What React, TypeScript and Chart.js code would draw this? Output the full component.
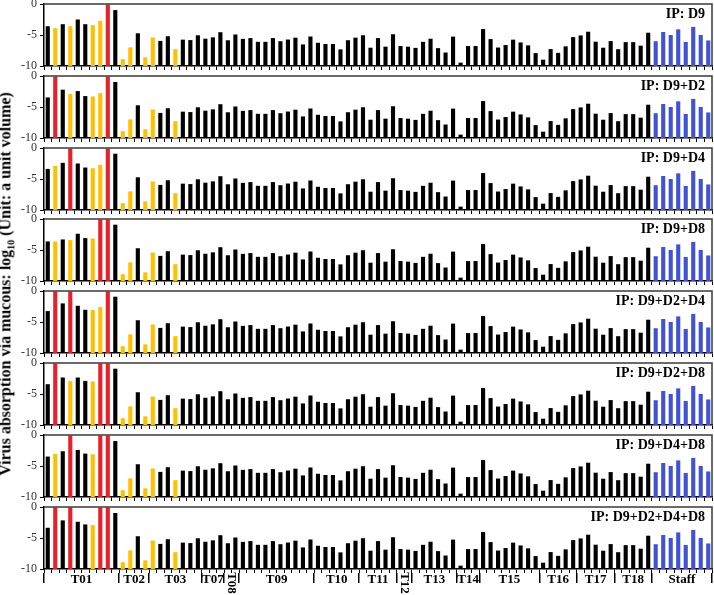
import React, { useEffect, useRef } from "react";
import { Chart, registerables } from "chart.js";

Chart.register(...registerables);

// ---------------- data ----------------
const groupNames = ["T01", "T02", "T03", "T07", "T08", "T09", "T10", "T11", "T12", "T13", "T14", "T15", "T16", "T17", "T18", "Staff"];
const groupSizes = [10, 4, 7, 3, 2, 10, 6, 5, 2, 6, 3, 8, 5, 5, 5, 8];
const rotatedGroups = ["T08", "T12"];

const panelTitles = [
  "IP: D9",
  "IP: D9+D2",
  "IP: D9+D4",
  "IP: D9+D8",
  "IP: D9+D2+D4",
  "IP: D9+D2+D8",
  "IP: D9+D4+D8",
  "IP: D9+D2+D4+D8",
];

// T01 site values (log10) for each intervention panel
const t01_D9 = [-3.59, -3.9, -3.26, -3.59, -2.5, -3.26, -3.42, -2.72, 0, -0.98];
const t01_D9D2 = [-3.46, 0, -2.2, -2.92, -2.43, -3.24, -3.3, -2.76, 0, -0.97];
const t01_D9D4 = [-3.37, -2.88, -2.39, 0, -2.5, -3.15, -3.26, -2.72, 0, -0.92];
const t01_D9D8 = [-3.62, -3.62, -3.3, -3.4, -2.38, -3.08, -3.14, 0, 0, -0.92];
const t01_D9D2D4 = [-3.24, 0, -2.0, 0, -2.38, -3.03, -3.08, -2.59, 0, -0.92];
const t01_D9D2D8 = [-3.42, 0, -2.34, -2.93, -2.34, -2.88, -2.99, 0, 0, -0.92];
const t01_D9D4D8 = [-3.48, -3.05, -2.62, 0, -2.41, -3.0, -3.1, 0, 0, -0.96];
const t01_D9D2D4D8 = [-3.35, 0, -2.16, 0, -2.38, -2.81, -2.92, 0, 0, -0.97];

// T01 status codes: k = other, y = contact, r = infected (IP), b = staff
const t01Status_D9 = "kykykkyyrk";
const t01Status_D9D2 = "krkykkyyrk";
const t01Status_D9D4 = "kykrkkyyrk";
const t01Status_D9D8 = "kykykkyrrk";
const t01Status_D9D2D4 = "krkrkkyyrk";
const t01Status_D9D2D8 = "krkykkyrrk";
const t01Status_D9D4D8 = "kykrkkyrrk";
const t01Status_D9D2D4D8 = "krkrkkyrrk";

// remaining sites T02 ... Staff (shared by all panels)
const otherValues = [
  -8.9, -7.0, -4.72, -8.6, -5.4, -5.95, -5.2, -7.28, -5.75, -5.82,
  -5.05, -5.6, -5.38, -4.55, -5.85, -4.92, -5.62, -5.5, -6.1, -6.1,
  -5.5, -6.0, -5.73, -5.43, -6.52, -5.24, -6.25, -6.45, -6.45, -7.32,
  -5.84, -5.43, -5.04, -7.05, -5.5, -6.88, -4.88, -6.78, -6.88, -7.08,
  -6.1, -5.6, -7.12, -7.83, -5.26, -9.46, -6.78, -6.78, -4.04, -5.66,
  -7.02, -6.62, -5.75, -6.2, -6.67, -7.92, -8.98, -7.27, -7.88, -6.83,
  -5.34, -5.07, -4.47, -6.08, -7.05, -5.98, -7.29, -6.15, -6.15, -6.72,
  -4.63, -6.0, -4.52, -5.0, -4.09, -6.12, -3.69, -5.0, -5.88,
];
const otherStatus =
  "yyky" + "ykkykkk" + "kkk" + "kk" + "kkkkkkkkkk" + "kkkkkk" + "kkkkk" + "kk" +
  "kkkkkk" + "kkk" + "kkkkkkkk" + "kkkkk" + "kkkkk" + "kkkkk" + "bbbbbbbb";

const yTicks = [0, -5, -10];

const panelT01Values = [t01_D9, t01_D9D2, t01_D9D4, t01_D9D8, t01_D9D2D4, t01_D9D2D8, t01_D9D4D8, t01_D9D2D4D8];
const panelT01Status = [t01Status_D9, t01Status_D9D2, t01Status_D9D4, t01Status_D9D8, t01Status_D9D2D4, t01Status_D9D2D8, t01Status_D9D4D8, t01Status_D9D2D4D8];

const categories = groupNames.flatMap((g, gi) =>
  Array.from({ length: groupSizes[gi] }, (_, i) => `${g}-${i + 1}`)
);
const groupBounds: number[] = [0];
groupSizes.forEach((s) => groupBounds.push(groupBounds[groupBounds.length - 1] + s));

// ---------------- styles ----------------
const statusColor: Record<string, string> = {
  k: "#000000",
  y: "#FFC000",
  r: "#E8202C",
  b: "#4152D2",
};
const FONT = '"Liberation Serif", "Times New Roman", serif';
const PANEL_TOP0 = 4;
const PANEL_STEP = 71.8;
const PLOT_H = 62;
const PAD_TOP = 12;
const TICK_LEN = 4;

Chart.defaults.font.family = FONT;

const framePlugin = {
  id: "frame",
  afterDraw(chart: any) {
    const { ctx, chartArea: a } = chart;
    ctx.save();
    ctx.strokeStyle = "#3a3a3a";
    ctx.lineWidth = 1.5;
    ctx.beginPath();
    ctx.moveTo(a.left, a.top);
    ctx.lineTo(a.right, a.top);
    ctx.lineTo(a.right, a.bottom);
    ctx.stroke();
    ctx.restore();
  },
};

const makeTitlePlugin = (title: string) => ({
  id: "panelTitle",
  afterDraw(chart: any) {
    const { ctx, chartArea: a } = chart;
    ctx.save();
    ctx.fillStyle = "#000";
    ctx.font = `bold 14px ${FONT}`;
    ctx.textAlign = "right";
    ctx.textBaseline = "middle";
    ctx.fillText(title, a.right - 7, a.top + 10);
    ctx.restore();
  },
});

const groupLabelPlugin = {
  id: "groupLabels",
  afterDraw(chart: any) {
    const sc = chart.scales.xg;
    if (!sc) return;
    const ctx = chart.ctx;
    ctx.save();
    ctx.fillStyle = "#000";
    ctx.font = `bold 13px ${FONT}`;
    ctx.textAlign = "center";
    ctx.textBaseline = "middle";
    groupNames.forEach((g, i) => {
      const x = sc.getPixelForValue((groupBounds[i] + groupBounds[i + 1]) / 2);
      if (rotatedGroups.includes(g)) {
        ctx.save();
        ctx.translate(x, sc.top + 10);
        ctx.rotate(Math.PI / 2);
        ctx.fillText(g, 0, 0);
        ctx.restore();
      } else {
        ctx.fillText(g, x, sc.top + 7);
      }
    });
    ctx.restore();
  },
};

function Panel({ index }: { index: number }) {
  const ref = useRef<HTMLCanvasElement>(null);
  const isLast = index === panelTitles.length - 1;
  const plotTop = Math.round(PANEL_TOP0 + index * PANEL_STEP);
  const canvasTop = plotTop - PAD_TOP;
  const height = isLast ? 100 : PAD_TOP + PLOT_H + TICK_LEN + 8;
  const padBottom = isLast ? height - PAD_TOP - PLOT_H - TICK_LEN - 10 : 8;

  useEffect(() => {
    const canvas = ref.current;
    if (!canvas) return;
    const values = [...panelT01Values[index], ...otherValues];
    const status = (panelT01Status[index] + otherStatus).split("");
    const colors = status.map((s) => statusColor[s]);
    const yMin = yTicks[yTicks.length - 1];
    const yMax = yTicks[0];

    const scales: any = {
      x: {
        type: "category",
        position: "bottom",
        offset: true,
        weight: 0,
        ticks: { display: false, autoSkip: false },
        grid: { offset: true, drawOnChartArea: false, drawTicks: true, tickLength: TICK_LEN, color: "#000", lineWidth: 1 },
        border: { display: true, color: "#000", width: 1.5 },
      },
      y: {
        type: "linear",
        min: yMin,
        max: yMax,
        afterBuildTicks: (s: any) => {
          s.ticks = yTicks.map((v) => ({ value: v }));
        },
        afterFit: (s: any) => {
          s.width = 44;
        },
        ticks: {
          color: "#333",
          font: { family: FONT, size: 12 },
          padding: 3,
          callback: (v: any) => String(v),
        },
        grid: { drawOnChartArea: false, drawTicks: true, tickLength: TICK_LEN, color: "#000", lineWidth: 1 },
        border: { display: true, color: "#000", width: 1.5 },
      },
    };
    if (isLast) {
      scales.xg = {
        type: "linear",
        position: "bottom",
        min: 0,
        max: categories.length,
        offset: false,
        weight: 1,
        afterBuildTicks: (s: any) => {
          s.ticks = groupBounds.map((v) => ({ value: v }));
        },
        ticks: { display: false },
        grid: { offset: false, drawOnChartArea: false, drawTicks: true, tickLength: 10, color: "#000", lineWidth: 1.5 },
        border: { display: false },
      };
    }

    const chart = new Chart(canvas, {
      type: "bar",
      data: {
        labels: categories,
        datasets: [
          {
            data: values.map((v) => [yMin, v]) as any,
            backgroundColor: colors,
            borderWidth: 0,
            barPercentage: 0.55,
            categoryPercentage: 1,
          },
        ],
      },
      options: {
        animation: false,
        responsive: false,
        devicePixelRatio: 1,
        layout: { padding: { top: PAD_TOP, bottom: padBottom, left: 0, right: 2 } },
        plugins: {
          legend: { display: false },
          tooltip: { enabled: false },
          title: { display: false },
        },
        scales,
      },
      plugins: [framePlugin, makeTitlePlugin(panelTitles[index]), ...(isLast ? [groupLabelPlugin] : [])],
    } as any);
    return () => chart.destroy();
  }, [index]);

  return (
    <canvas
      ref={ref}
      width={714}
      height={height}
      style={{ position: "absolute", left: 0, top: canvasTop, width: 714, height }}
    />
  );
}

export default function App() {
  return (
    <div
      style={{
        position: "absolute",
        left: 0,
        top: 0,
        width: 714,
        height: 595,
        overflow: "hidden",
        background: "#fff",
      }}
    >
      {panelTitles.map((_, i) => (
        <Panel key={i} index={i} />
      ))}
      <div
        style={{
          position: "absolute",
          left: 8,
          top: 284,
          transform: "translate(-50%, -50%) rotate(-90deg)",
          whiteSpace: "nowrap",
          font: `bold 16px ${FONT}`,
          color: "#000",
          lineHeight: "17px",
        }}
      >
        Virus absorption via mucous: log<sub style={{ fontSize: "10px" }}>10</sub> (Unit: a unit volume)
      </div>
    </div>
  );
}
